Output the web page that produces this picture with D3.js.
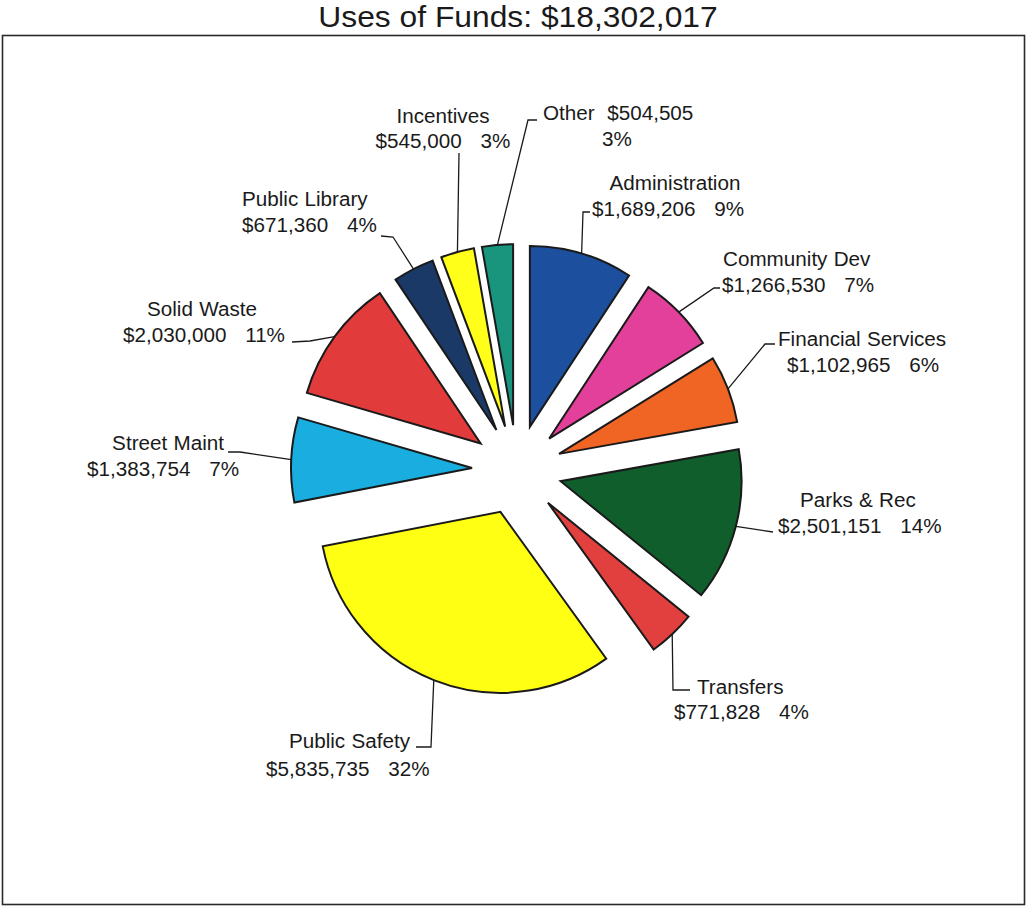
<!DOCTYPE html>
<html>
<head>
<meta charset="utf-8">
<script src="https://cdn.jsdelivr.net/npm/d3@7"></script>
<style>
  html, body { margin: 0; padding: 0; background: #fff; }
  svg text { font-family: "Liberation Sans", Arial, sans-serif; fill: #1a1a1a; white-space: pre; }
</style>
</head>
<body>
<svg id="chart" width="1029" height="909"></svg>
<script>
// Budget categories, clockwise from 12 o'clock
const categories = ["Administration", "Community Dev", "Financial Services", "Parks & Rec",
  "Transfers", "Public Safety", "Street Maint", "Solid Waste", "Public Library",
  "Incentives", "Other"];
const amounts = [1689206, 1266530, 1102965, 2501151, 771828, 5835735, 1383754,
  2030000, 671360, 545000, 504505];
const percentLabels = ["9%", "7%", "6%", "14%", "4%", "32%", "7%", "11%", "4%", "3%", "3%"];
const totalLabel = "$18,302,017";

const colors = ["#1d4f9f", "#e2409b", "#f06424", "#0f5e2c", "#e2403f", "#ffff14",
  "#19aedf", "#e23b3b", "#1b3967", "#ffff1a", "#19957d"];

// Label placement: line-1 / line-2 baselines and the leader's knee and end points
const labelLayout = [
  { l1: [675, 190, "middle"], l2: [592, 216, "start"], knee: [583, 212], end: [590, 212] },
  { l1: [723, 266, "start"], l2: [722, 292, "start"], knee: [714, 288], end: [720, 288] },
  { l1: [778, 346, "start"], l2: [787, 372, "start"], knee: [765, 344], end: [775, 344] },
  { l1: [800, 507, "start"], l2: [778, 533, "start"], knee: [773, 532], end: [773, 532] },
  { l1: [697, 694, "start"], l2: [674, 719, "start"], knee: [673, 690], end: [690, 690] },
  { l1: [410, 748, "end"], l2: [266, 776, "start"], knee: [431, 747], end: [416, 747] },
  { l1: [224, 450, "end"], l2: [87, 476, "start"], knee: [240, 452], end: [228, 452] },
  { l1: [147, 316, "start"], l2: [123, 342, "start"], knee: [310, 341], end: [292, 342] },
  { l1: [242, 206, "start"], l2: [242, 232, "start"], knee: [393, 237], end: [381, 236] },
  { l1: [443, 123, "middle"], l2: [443, 148, "middle"], knee: [459, 153], end: [459, 153] },
  { l1: [543, 120, "start"], l2: [602, 146, "start"], knee: [528, 120], end: [537, 120], inline: true }
];

const cx = 517, cy = 470, radius = 181, explode = 45;
const sx = 1.06; // horizontal text stretch

const svg = d3.select("#chart");

// outer frame
svg.append("rect")
  .attr("x", 2.5).attr("y", 35.5).attr("width", 1022).attr("height", 869)
  .attr("fill", "none").attr("stroke", "#2a2a2a").attr("stroke-width", 1.6);

// title
svg.append("text")
  .attr("transform", `translate(518,27) scale(${sx},1)`)
  .attr("text-anchor", "middle")
  .style("font-size", "30px")
  .text("Uses of Funds: " + totalLabel);

const fmt = d3.format("$,");

const data = categories.map((c, i) => ({ name: c, value: amounts[i], pct: percentLabels[i], color: colors[i], layout: labelLayout[i] }));

const pie = d3.pie().sort(null).value(d => d.value).startAngle(0).endAngle(2 * Math.PI);
const arcs = pie(data);
const arc = d3.arc().innerRadius(0).outerRadius(radius);

const g = svg.append("g").attr("transform", `translate(${cx},${cy})`);

// exploded slices
g.selectAll("path.slice")
  .data(arcs)
  .join("path")
  .attr("class", "slice")
  .attr("transform", d => {
    const a = (d.startAngle + d.endAngle) / 2;
    return `translate(${explode * Math.sin(a)},${-explode * Math.cos(a)})`;
  })
  .attr("d", arc)
  .attr("fill", d => d.data.color)
  .attr("stroke", "#1a1a1a")
  .attr("stroke-width", 2)
  .attr("stroke-linejoin", "miter");

// leader lines: from the slice's outer edge at mid-angle to the label
svg.selectAll("path.leader")
  .data(arcs)
  .join("path")
  .attr("class", "leader")
  .attr("fill", "none")
  .attr("stroke", "#1a1a1a")
  .attr("stroke-width", 1.3)
  .attr("d", d => {
    const a = (d.startAngle + d.endAngle) / 2;
    const r = explode + radius;
    const p0 = [cx + r * Math.sin(a), cy - r * Math.cos(a)];
    const L = d.data.layout;
    return d3.line()([p0, L.knee, L.end]);
  });

// labels
const labels = svg.append("g").style("font-size", "19.5px");
arcs.forEach(d => {
  const L = d.data.layout;
  const amt = fmt(d.data.value);
  const line1 = L.inline ? `${d.data.name}  ${amt}` : d.data.name;
  const line2 = L.inline ? d.data.pct : `${amt}   ${d.data.pct}`;
  [[L.l1, line1], [L.l2, line2]].forEach(([p, txt]) => {
    labels.append("text")
      .attr("transform", `translate(${p[0]},${p[1]}) scale(${sx},1)`)
      .attr("text-anchor", p[2])
      .style("word-spacing", "0.5px")
      .text(txt);
  });
});
</script>
</body>
</html>
